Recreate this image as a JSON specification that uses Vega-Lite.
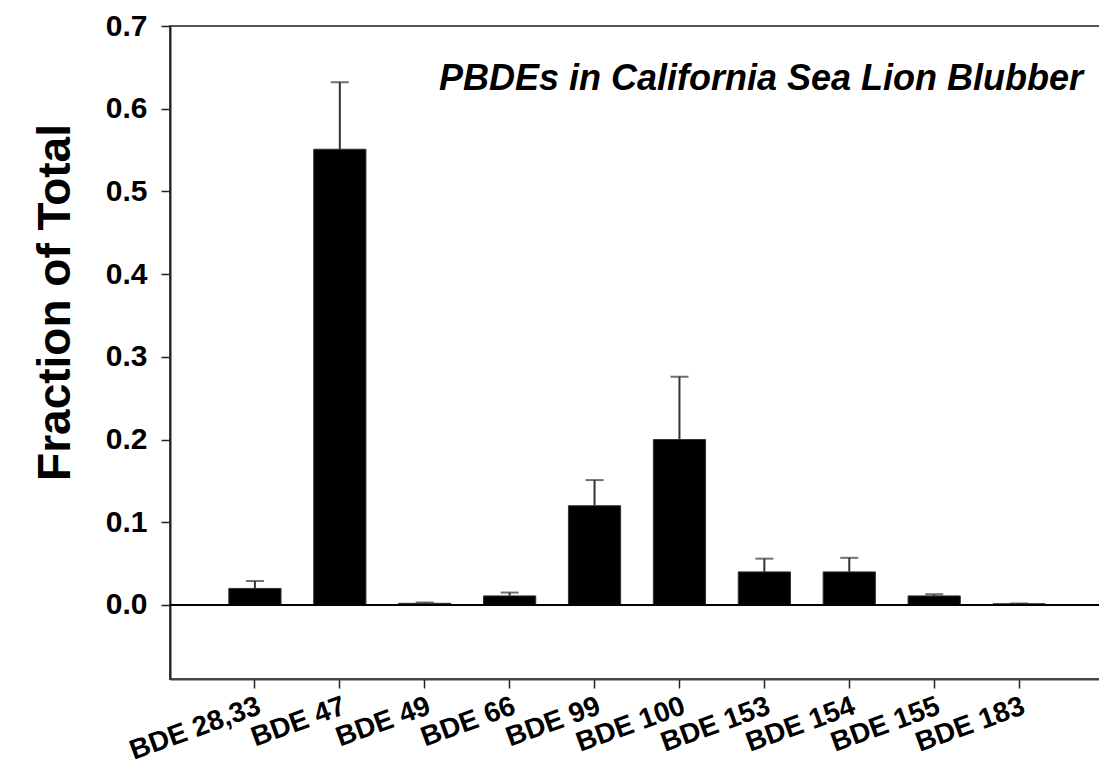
{
  "$schema": "https://vega.github.io/schema/vega-lite/v6.json",
  "autosize": "none",
  "width": 934,
  "height": 653,
  "padding": {"left": 170, "top": 26, "right": 0, "bottom": 87},
  "background": "white",
  "config": {
    "font": "Liberation Sans",
    "view": {"stroke": "#555555", "strokeWidth": 2}
  },
  "data": {
    "values": [
      {"congener": "BDE 28,33", "mean": 0.02, "upper": 0.029},
      {"congener": "BDE 47", "mean": 0.551, "upper": 0.632},
      {"congener": "BDE 49", "mean": 0.002, "upper": 0.003},
      {"congener": "BDE 66", "mean": 0.011, "upper": 0.015},
      {"congener": "BDE 99", "mean": 0.12, "upper": 0.151},
      {"congener": "BDE 100", "mean": 0.2, "upper": 0.276},
      {"congener": "BDE 153", "mean": 0.04, "upper": 0.056},
      {"congener": "BDE 154", "mean": 0.04, "upper": 0.057},
      {"congener": "BDE 155", "mean": 0.011, "upper": 0.013},
      {"congener": "BDE 183", "mean": 0.0015, "upper": 0.0018}
    ]
  },
  "encoding": {
    "x": {
      "field": "congener",
      "type": "nominal",
      "sort": null,
      "scale": {"paddingInner": 0.385, "paddingOuter": 0.6925},
      "axis": {
        "title": null,
        "labelAngle": -20,
        "labelAlign": "right",
        "labelBaseline": "top",
        "labelFont": "Liberation Sans",
        "labelFontSize": 28,
        "labelFontWeight": "bold",
        "labelColor": "black",
        "labelPadding": 4,
        "tickSize": 9,
        "tickColor": "#222",
        "tickWidth": 1.5,
        "domainColor": "#444",
        "domainWidth": 2,
        "grid": false
      }
    }
  },
  "layer": [
    {
      "mark": {"type": "bar", "color": "black", "stroke": "#333", "strokeWidth": 1},
      "encoding": {
        "y": {
          "field": "mean",
          "type": "quantitative",
          "scale": {"domain": [-0.0895, 0.7], "nice": false, "zero": false},
          "axis": {
            "title": "Fraction of Total",
            "titleFont": "Liberation Sans",
            "titleFontSize": 46,
            "titleFontWeight": "bold",
            "titleColor": "black",
            "titleAngle": -90,
            "titleAlign": "center",
            "titleBaseline": "middle",
            "titleX": -115,
            "titleY": 276,
            "values": [0, 0.1, 0.2, 0.3, 0.4, 0.5, 0.6, 0.7],
            "format": ".1f",
            "labelFont": "Liberation Sans",
            "labelFontSize": 30,
            "labelFontWeight": "bold",
            "labelColor": "black",
            "labelPadding": 14,
            "tickSize": 9,
            "tickColor": "#222",
            "tickWidth": 1.5,
            "domainColor": "#222",
            "domainWidth": 2,
            "grid": false
          }
        }
      }
    },
    {
      "mark": {"type": "rule", "color": "#333", "strokeWidth": 2},
      "encoding": {
        "y": {"field": "mean", "type": "quantitative"},
        "y2": {"field": "upper"}
      }
    },
    {
      "mark": {"type": "tick", "color": "#333", "size": 18, "thickness": 2, "orient": "horizontal"},
      "encoding": {
        "y": {"field": "upper", "type": "quantitative"}
      }
    },
    {
      "data": {"values": [{"zero": 0}]},
      "mark": {"type": "rule", "color": "black", "strokeWidth": 2},
      "encoding": {
        "x": null,
        "y": {"field": "zero", "type": "quantitative"}
      }
    },
    {
      "data": {"values": [{"label": "PBDEs in California Sea Lion Blubber", "pos": "BDE 183", "yv": 0.623}]},
      "mark": {
        "type": "text",
        "align": "right",
        "baseline": "alphabetic",
        "dx": 64,
        "font": "Liberation Sans",
        "fontSize": 36,
        "fontWeight": "bold",
        "fontStyle": "italic",
        "color": "black"
      },
      "encoding": {
        "x": {"field": "pos", "type": "nominal", "sort": null},
        "y": {"field": "yv", "type": "quantitative"},
        "text": {"field": "label"}
      }
    }
  ]
}
